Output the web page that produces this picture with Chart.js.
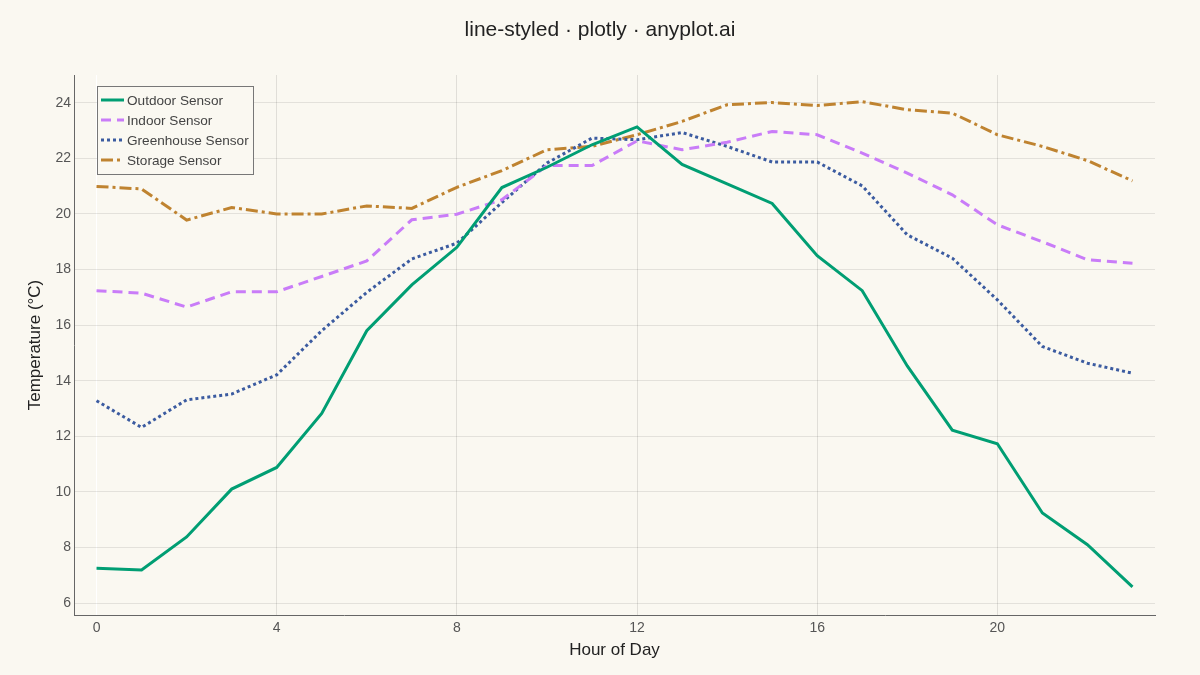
<!DOCTYPE html>
<html>
<head>
<meta charset="utf-8">
<script src="https://cdn.jsdelivr.net/npm/chart.js@4.4.1/dist/chart.umd.min.js"></script>
<style>
  html, body { margin: 0; padding: 0; background: #FAF8F1; }
  #wrap { width: 1200px; height: 675px; }
</style>
</head>
<body>
<div id="wrap"><canvas id="grafTemp" width="1200" height="675"></canvas></div>
<script>
// datos
const hours = [0, 1, 2, 3, 4, 5, 6, 7, 8, 9, 10, 11, 12, 13, 14, 15, 16, 17, 18, 19, 20, 21, 22, 23];
const outdoor = [7.25, 7.19, 8.38, 10.1, 10.88, 12.82, 15.8, 17.45, 18.8, 20.95, 21.68, 22.49, 23.13, 21.78, 21.08, 20.38, 18.5, 17.24, 14.53, 12.22, 11.73, 9.24, 8.1, 6.58];
const indoor = [17.24, 17.15, 16.65, 17.2, 17.2, 17.75, 18.31, 19.79, 19.99, 20.51, 21.74, 21.74, 22.63, 22.31, 22.58, 22.97, 22.85, 22.19, 21.47, 20.69, 19.61, 19.0, 18.35, 18.23];
const greenhouse = [13.28, 12.32, 13.31, 13.52, 14.21, 15.8, 17.18, 18.38, 18.95, 20.41, 21.83, 22.73, 22.67, 22.93, 22.43, 21.87, 21.87, 21.01, 19.25, 18.41, 16.91, 15.23, 14.63, 14.27];
const storage = [20.99, 20.9, 19.78, 20.23, 20.0, 20.0, 20.29, 20.2, 20.96, 21.56, 22.31, 22.43, 22.85, 23.33, 23.93, 24.01, 23.9, 24.04, 23.75, 23.63, 22.85, 22.43, 21.92, 21.19];
const seriesNames = ["Outdoor Sensor", "Indoor Sensor", "Greenhouse Sensor", "Storage Sensor"];
const xTicks = [0, 4, 8, 12, 16, 20];
const yTicks = [6, 8, 10, 12, 14, 16, 18, 20, 22, 24];

const FONT = "'Liberation Sans', Arial, sans-serif";

function toPts(vals) { // une horas con valores
    return hours.map((h, i) => ({ x: h, y: vals[i] }));
}

function mkSet(label, vals, color, dash) {
    return {
        label: label,
        data: toPts(vals),
        borderColor: color,
        backgroundColor: color,
        borderWidth: 3,
        borderDash: dash,
        pointRadius: 0,
        tension: 0,
        fill: false
    };
}

// fondo crema
const bgPlugin = {
    id: 'bgPlugin',
    beforeDraw(chart) {
        const c = chart.ctx;
        c.save();
        c.fillStyle = '#FAF8F1';
        c.fillRect(0, 0, chart.width, chart.height);
        c.restore();
    }
};

// titulo y leyenda dentro del area
const legendBox = {
    id: 'legendBox',
    afterDraw(chart) {
        const c = chart.ctx;
        c.save();
        c.fillStyle = '#222';
        c.font = '21px ' + FONT;
        c.textAlign = 'center';
        c.textBaseline = 'middle';
        c.fillText('line-styled · plotly · anyplot.ai', 600, 30);

        const x0 = 97, y0 = 86, w = 156, h = 88;
        c.fillStyle = '#FAF8F1';
        c.fillRect(x0, y0, w, h);
        c.strokeStyle = '#777';
        c.lineWidth = 1;
        c.strokeRect(x0 + 0.5, y0 + 0.5, w, h);
        c.font = '13.6px ' + FONT;
        c.textAlign = 'left';
        chart.data.datasets.forEach((ds, i) => {
            const yy = 100 + i * 20;
            c.beginPath();
            c.setLineDash(ds.borderDash || []);
            c.strokeStyle = ds.borderColor;
            c.lineWidth = 3;
            c.moveTo(101, yy);
            c.lineTo(124, yy);
            c.stroke();
            c.setLineDash([]);
            c.fillStyle = '#444';
            c.fillText(ds.label, 127, yy + 1);
        });
        c.restore();
    }
};

const grafTemp = document.getElementById('grafTemp').getContext('2d');
let config_grafTemp = {
    type: 'line',
    data: {
        datasets: [
            mkSet(seriesNames[0], outdoor, '#009E73', []),
            mkSet(seriesNames[1], indoor, '#C97CF8', [10, 6]),
            mkSet(seriesNames[2], greenhouse, '#3B5BA0', [3, 3]),
            mkSet(seriesNames[3], storage, '#BF8330', [12, 4, 3, 4])
        ]
    },
    options: {
        responsive: false,
        animation: false,
        devicePixelRatio: 1,
        layout: { padding: { left: 0, right: 45, top: 75, bottom: 0 } },
        plugins: {
            legend: { display: false },
            tooltip: { enabled: false },
            title: { display: false }
        },
        scales: {
            x: {
                type: 'linear',
                min: -0.5,
                max: 23.5,
                afterBuildTicks: (axis) => { axis.ticks = xTicks.map(v => ({ value: v })); },
                afterFit: (axis) => { axis.height = 60; },
                grid: {
                    color: (ctx) => ctx.tick && ctx.tick.value === 0 ? '#FFFFFF' : 'rgba(0,0,0,0.1)',
                    lineWidth: 1,
                    drawTicks: false
                },
                border: { display: true, color: '#666', width: 1 },
                ticks: { color: '#555', padding: 5, font: { size: 14, family: FONT } },
                title: {
                    display: true,
                    text: 'Hour of Day',
                    color: '#222',
                    font: { size: 17, family: FONT },
                    padding: { top: 0, bottom: 14 }
                }
            },
            y: {
                type: 'linear',
                min: 5.57,
                max: 25.0,
                afterBuildTicks: (axis) => { axis.ticks = yTicks.map(v => ({ value: v })); },
                afterFit: (axis) => { axis.width = 74; },
                grid: { color: 'rgba(0,0,0,0.09)', lineWidth: 1, drawTicks: false },
                border: { display: true, color: '#666', width: 1 },
                ticks: { color: '#555', padding: 3, font: { size: 14, family: FONT } },
                title: {
                    display: true,
                    text: 'Temperature (°C)',
                    color: '#222',
                    font: { size: 17, family: FONT },
                    padding: { top: 25, bottom: 0 }
                }
            }
        }
    },
    plugins: [bgPlugin, legendBox]
};
const grafTempChart = new Chart(grafTemp, config_grafTemp);
</script>
</body>
</html>
